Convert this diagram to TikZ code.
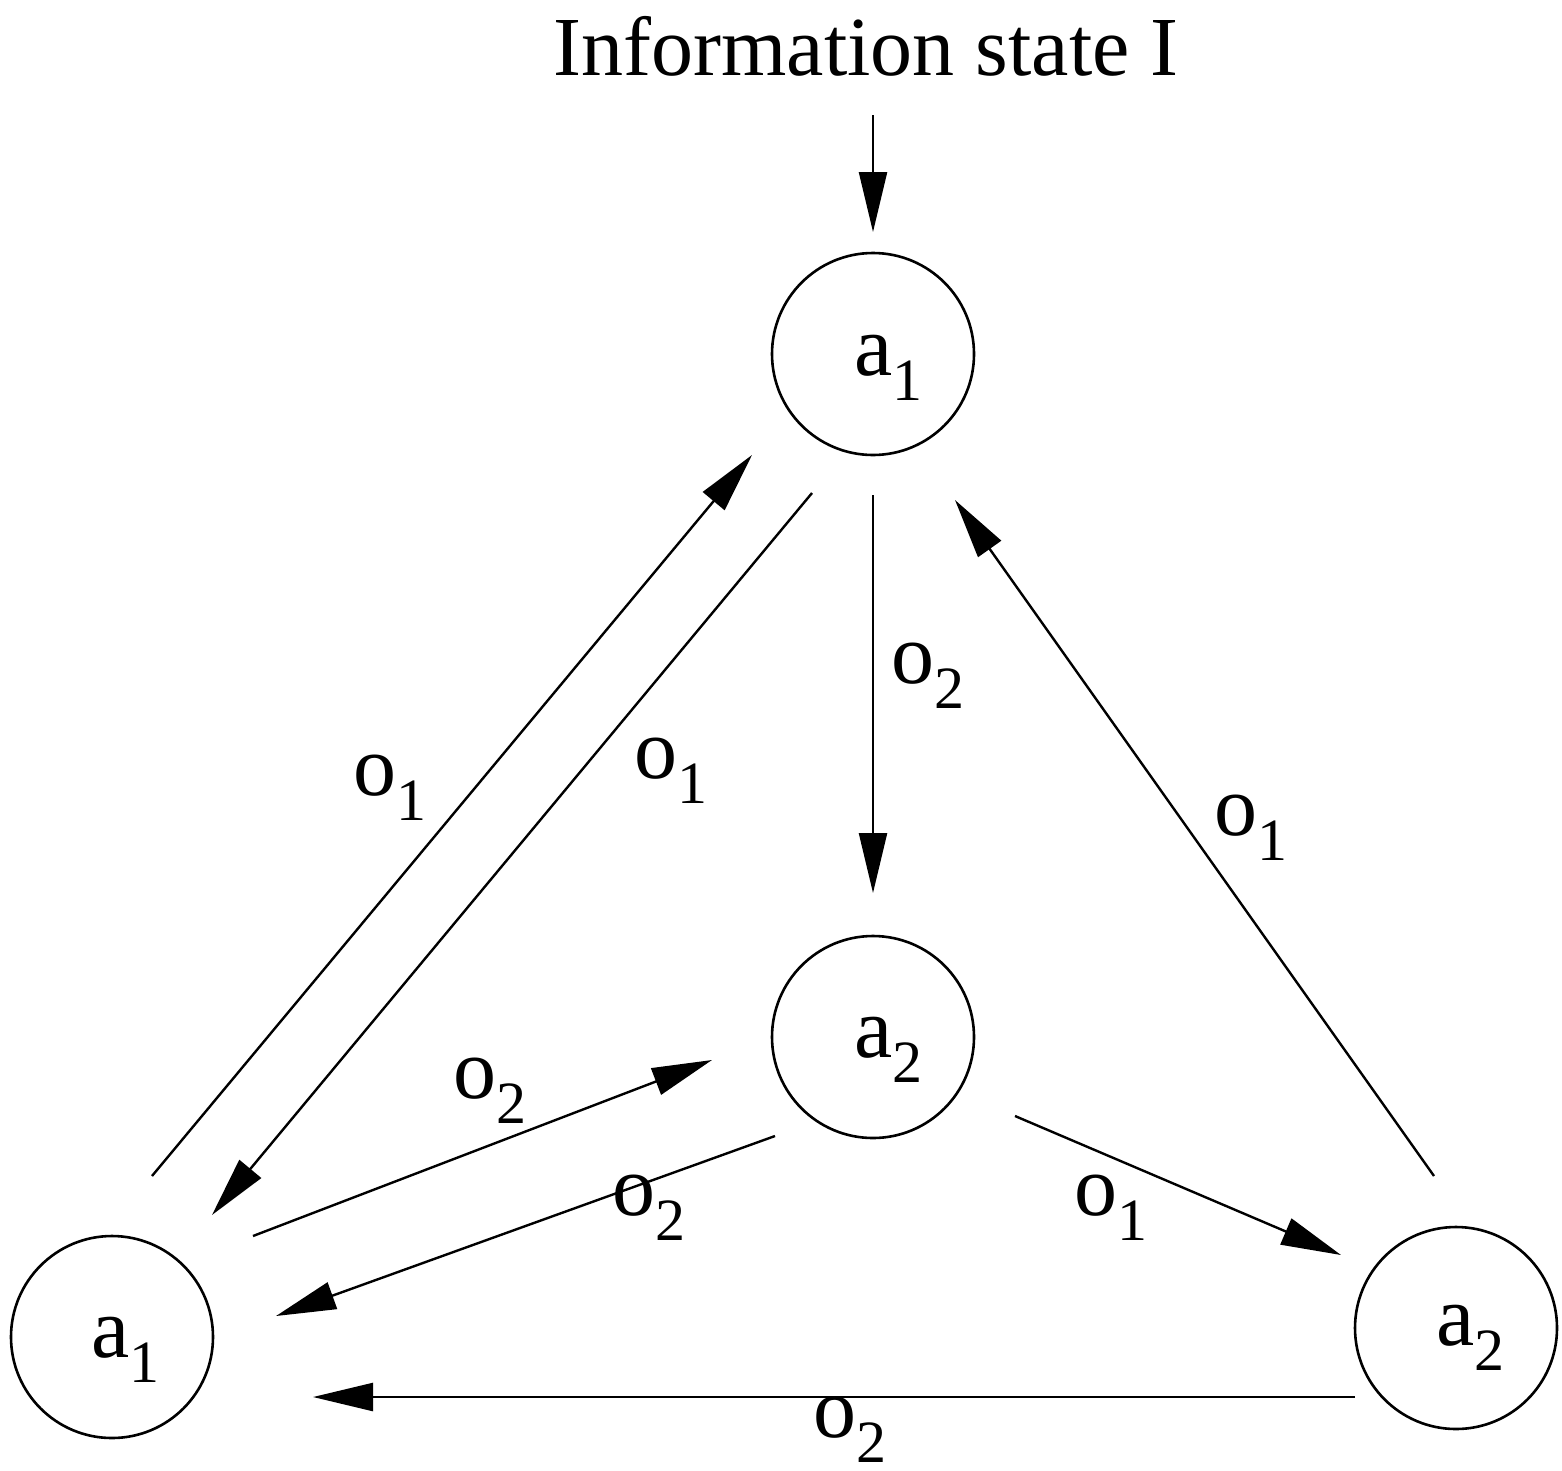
\documentclass[tikz,border=0pt]{standalone}
\usepackage{fontspec}
\setmainfont{Liberation Serif}
\usetikzlibrary{arrows.meta}
\newcommand{\sublbl}[2]{#1\raisebox{-25pt}{\fontsize{60}{60}\selectfont #2}}
\begin{document}
\begin{tikzpicture}[x=1pt,y=-1pt,line width=2.4pt,
  state/.style={circle,draw,line width=2.6pt,minimum size=202pt,inner sep=0pt},
  txt/.style={anchor=base west,inner sep=0pt,font=\fontsize{86}{90}\selectfont},
  arr/.style={-{Triangle[length=60pt,width=28pt]}}]
\useasboundingbox (0,0) rectangle (1562,1470);
% title
\node[anchor=base,inner sep=0pt,font=\fontsize{84}{90}\selectfont] (title) at (866,75) {Information state I};
% states
\node[state] (A) at (873,354) {};
\node[state] (B) at (873,1037) {};
\node[state] (C) at (112,1337) {};
\node[state] (D) at (1456,1328) {};
\node[txt] (At) at (853,375) {\sublbl{a}{1}};
\node[txt] (Bt) at (853,1057) {\sublbl{a}{2}};
\node[txt] (Ct) at (90,1357) {\sublbl{a}{1}};
\node[txt] (Dt) at (1435,1345) {\sublbl{a}{2}};
% connector end points
\coordinate (e0) at (873,115);   \coordinate (e1) at (873,232);
\coordinate (c1s) at (152,1176); \coordinate (c1e) at (752,455);
\coordinate (a1s) at (812,493);  \coordinate (a1e) at (212,1215);
\coordinate (a2s) at (873,495);  \coordinate (a2e) at (873,893);
\coordinate (d1s) at (1434,1176);\coordinate (d1e) at (955,500);
\coordinate (c2s) at (253,1236); \coordinate (c2e) at (712,1060);
\coordinate (b1s) at (775,1136); \coordinate (b1e) at (276,1316);
\coordinate (b2s) at (1015,1116);\coordinate (b2e) at (1341,1255);
\coordinate (d2s) at (1355,1397);\coordinate (d2e) at (313,1397);
% connectors
\draw[arr] (e0) -- (e1);
\draw[arr] (c1s) -- (c1e);
\draw[arr] (a1s) -- (a1e);
\draw[arr] (a2s) -- (a2e);
\draw[arr] (d1s) -- (d1e);
\draw[arr] (c2s) -- (c2e);
\draw[arr] (b1s) -- (b1e);
\draw[arr] (b2s) -- (b2e);
\draw[arr] (d2s) -- (d2e);
% labels
\node[txt] (l1) at (352,795)  {\sublbl{o}{1}};
\node[txt] (l2) at (633,778)  {\sublbl{o}{1}};
\node[txt] (l3) at (890,683)  {\sublbl{o}{2}};
\node[txt] (l4) at (1213,835) {\sublbl{o}{1}};
\node[txt] (l5) at (452,1098) {\sublbl{o}{2}};
\node[txt] (l6) at (611,1215) {\sublbl{o}{2}};
\node[txt] (l7) at (1073,1215){\sublbl{o}{1}};
\node[txt] (l8) at (812,1437) {\sublbl{o}{2}};
\end{tikzpicture}
\end{document}
